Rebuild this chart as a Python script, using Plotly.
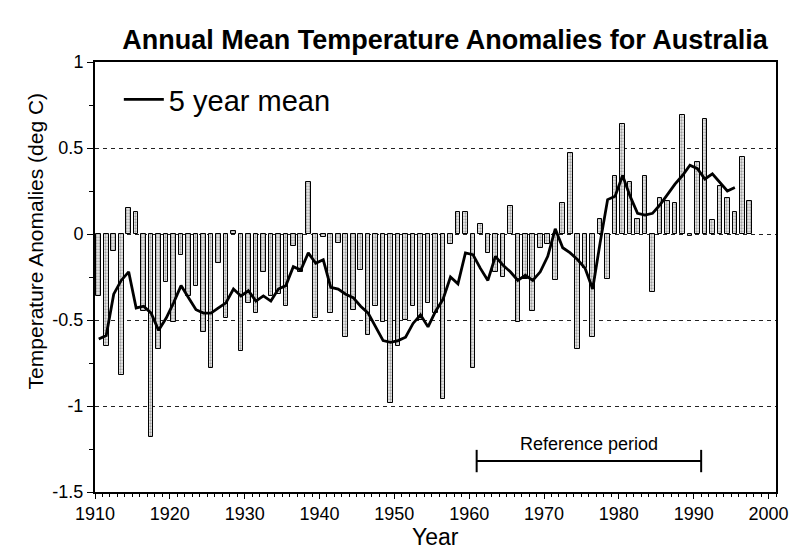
import numpy as np
import plotly.graph_objects as go

# ---- data -------------------------------------------------------------
years = list(range(1910, 1998))
anomalies = [
    -0.36, -0.65, -0.10, -0.82, 0.15, 0.13, -0.45, -1.18, -0.67, -0.28,   # 1910-1919
    -0.51, -0.12, -0.36, -0.30, -0.57, -0.78, -0.17, -0.49, 0.02, -0.68,  # 1920-1929
    -0.40, -0.46, -0.22, -0.36, -0.35, -0.42, -0.07, -0.22, 0.30, -0.49,  # 1930-1939
    -0.02, -0.46, -0.05, -0.60, -0.44, -0.21, -0.59, -0.42, -0.51, -0.98, # 1940-1949
    -0.65, -0.50, -0.42, -0.50, -0.40, -0.46, -0.96, -0.06, 0.13, 0.13,   # 1950-1959
    -0.78, 0.06, -0.11, -0.22, -0.25, 0.16, -0.51, -0.26, -0.45, -0.08,   # 1960-1969
    -0.06, -0.27, 0.18, 0.47, -0.67, -0.20, -0.60, 0.09, -0.26, 0.34,     # 1970-1979
    0.64, 0.30, 0.09, 0.34, -0.34, 0.21, 0.19, 0.18, 0.69, -0.01,         # 1980-1989
    0.42, 0.67, 0.08, 0.28, 0.21, 0.13, 0.45, 0.19,                       # 1990-1997
]

mean_years = list(range(1910, 1996))
mean5 = [
    -0.61, -0.59, -0.35, -0.27, -0.22, -0.43, -0.42, -0.46, -0.56, -0.49,  # 1910-1919
    -0.40, -0.30, -0.37, -0.44, -0.46, -0.46, -0.43, -0.40, -0.32, -0.36,  # 1920-1929
    -0.33, -0.39, -0.36, -0.39, -0.32, -0.30, -0.19, -0.21, -0.11, -0.17,  # 1930-1939
    -0.15, -0.31, -0.32, -0.35, -0.37, -0.42, -0.46, -0.54, -0.62, -0.63,  # 1940-1949
    -0.62, -0.60, -0.52, -0.47, -0.54, -0.45, -0.38, -0.25, -0.29, -0.11,  # 1950-1959
    -0.12, -0.20, -0.27, -0.13, -0.18, -0.22, -0.27, -0.24, -0.27, -0.22,  # 1960-1969
    -0.13, 0.03, -0.08, -0.11, -0.15, -0.20, -0.32, -0.05, 0.20, 0.22,     # 1970-1979
    0.34, 0.22, 0.12, 0.11, 0.12, 0.17, 0.23, 0.29, 0.34, 0.40,            # 1980-1989
    0.38, 0.32, 0.35, 0.30, 0.25, 0.27,                                    # 1990-1995
]

ref_period = [1961, 1991]
x_ticks = list(range(1910, 2001, 10))
y_ticks = [1, 0.5, 0, -0.5, -1, -1.5]
y_tick_text = ["1", "0.5", "0", "-0.5", "-1", "-1.5"]

FONT = "Liberation Sans, Arial, sans-serif"

fig = go.Figure()

fig.add_trace(go.Bar(
    x=years, y=anomalies,
    width=0.62, offset=0.19,
    marker=dict(
        color="white",
        line=dict(color="black", width=1),
        pattern=dict(shape=".", fgcolor="#555555", bgcolor="#ececec", size=3, solidity=0.45),
    ),
    showlegend=False,
))

fig.add_trace(go.Scatter(
    x=np.array(mean_years) + 0.5, y=mean5,
    mode="lines", line=dict(color="black", width=2.8),
    name="5 year mean",
))

# reference period bar
ry = -1.32
fig.add_shape(type="line", xref="x", yref="y", x0=ref_period[0], x1=ref_period[1], y0=ry, y1=ry,
              line=dict(color="black", width=2))
for xv in ref_period:
    fig.add_shape(type="line", xref="x", yref="y", x0=xv, x1=xv, y0=ry - 0.065, y1=ry + 0.065,
                  line=dict(color="black", width=2))
fig.add_annotation(x=(ref_period[0] + ref_period[1]) / 2, y=-1.22, xref="x", yref="y",
                   text="Reference period", showarrow=False, yanchor="middle",
                   font=dict(family=FONT, size=18, color="black"))

# axis titles as annotations
fig.add_annotation(x=-0.088, y=0.583, xref="paper", yref="paper", text="Temperature Anomalies (deg C)",
                   textangle=-90, showarrow=False, xanchor="center", yanchor="middle",
                   font=dict(family=FONT, size=21, color="black"))
fig.add_annotation(x=0.5, y=-0.104, xref="paper", yref="paper", text="Year", showarrow=False,
                   xanchor="center", yanchor="middle",
                   font=dict(family=FONT, size=23, color="black"))

# page body has an 8px margin: figure is 792x542 so that it lands on the 800x550 window
fig.update_layout(
    width=792, height=542,
    margin=dict(l=87, r=24, t=54, b=58),
    paper_bgcolor="white", plot_bgcolor="white",
    title=dict(text="<b>Annual Mean Temperature Anomalies for Australia</b>",
               x=(445 - 8) / 792, xanchor="center", y=1 - 32 / 542, yanchor="middle",
               font=dict(family=FONT, size=27, color="black")),
    legend=dict(x=0.035, y=0.972, xanchor="left", yanchor="top", itemwidth=40,
                bgcolor="rgba(0,0,0,0)", font=dict(family=FONT, size=29, color="black")),
    bargap=0,
    font=dict(family=FONT, color="black"),
)

fig.update_xaxes(
    range=[1910, 2001], tickmode="array", tickvals=x_ticks,
    ticks="outside", ticklen=5, tickwidth=1, tickcolor="black",
    minor=dict(dtick=1, tick0=1910, ticks="outside", ticklen=3, tickcolor="black", showgrid=False),
    showline=True, linecolor="black", linewidth=1.5, mirror=True,
    showgrid=False, zeroline=False,
    tickfont=dict(family=FONT, size=18, color="black"),
)
fig.update_yaxes(
    range=[-1.5, 1], tickmode="array", tickvals=y_ticks, ticktext=y_tick_text,
    ticks="outside", ticklen=6, tickwidth=1, tickcolor="black",
    minor=dict(dtick=0.25, tick0=0, ticks="outside", ticklen=4, tickcolor="black", showgrid=False),
    showline=True, linecolor="black", linewidth=2, mirror=True,
    showgrid=True, gridcolor="#222", griddash="4px,4px", gridwidth=1,
    zeroline=False,
    tickfont=dict(family=FONT, size=18, color="black"),
)

fig.write_html("out.html")
